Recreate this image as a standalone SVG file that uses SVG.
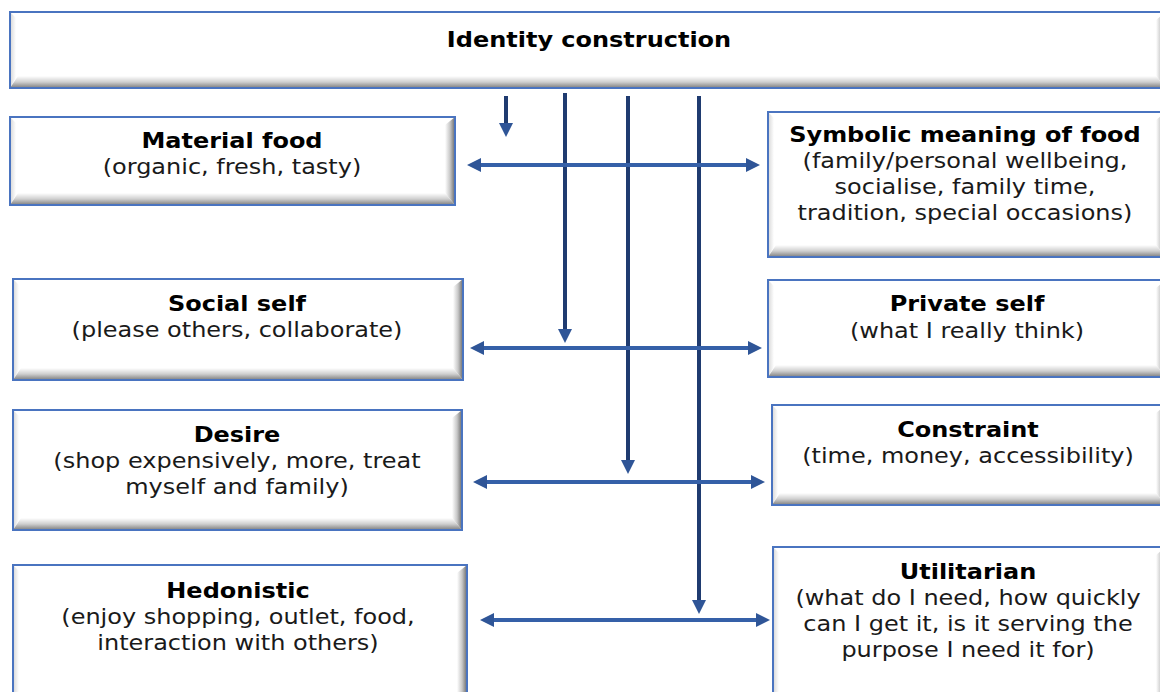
<svg xmlns="http://www.w3.org/2000/svg" width="1160" height="692" viewBox="0 0 1160 692">
<style>
.face{fill:#ffffff}
.bdr{fill:none;stroke:#4a74c0;stroke-width:2}
.bb{fill:url(#gb)}
.br{fill:url(#gr)}
.bl{fill:url(#gl)}
.t{font-family:"DejaVu Sans",Verdana,sans-serif;font-size:20.5px;fill:#1a1a1a;text-anchor:middle}
.h{font-weight:bold;fill:#000}
.v{stroke:#1f3b70;stroke-width:4;fill:none}
.hz{stroke:#3560a8;stroke-width:4;fill:none}
</style>
<defs>
<linearGradient id="gb" x1="0" y1="0" x2="0" y2="1">
<stop offset="0" stop-color="#ffffff"/><stop offset="0.5" stop-color="#cfcfcf"/><stop offset="1" stop-color="#7d7d7d"/>
</linearGradient>
<linearGradient id="gr" x1="0" y1="0" x2="1" y2="0">
<stop offset="0" stop-color="#ffffff"/><stop offset="0.5" stop-color="#c8c8c8"/><stop offset="1" stop-color="#6a6a6a"/>
</linearGradient>
<linearGradient id="gl" x1="1" y1="0" x2="0" y2="0">
<stop offset="0" stop-color="#ffffff"/><stop offset="1" stop-color="#d6d6d6"/>
</linearGradient>
<marker id="ah" markerWidth="16" markerHeight="16" refX="4" refY="7" orient="auto-start-reverse" markerUnits="userSpaceOnUse">
<path d="M0,0 L14,7 L0,14 Z" fill="#2f5597"/>
</marker>
</defs>

<g id="identity">
<rect class="face" x="10" y="12" width="1156" height="76"/>
<polygon class="bl" points="10,12 16,18 16,78 10,88"/>
<polygon class="bb" points="10,88 1166,88 1156,76 18,76"/>
<polygon class="br" points="1166,12 1166,88 1156,76 1156,20"/>
<rect class="bdr" x="10" y="12" width="1156" height="76"/>
<text class="t h" transform="translate(589,47) scale(1.17,1)" x="0" y="0">Identity construction</text>
</g>

<g id="material">
<rect class="face" x="10" y="117" width="445" height="88"/>
<polygon class="bl" points="10,117 16,123 16,195 10,205"/>
<polygon class="bb" points="10,205 455,205 445,193 18,193"/>
<polygon class="br" points="455,117 455,205 445,193 445,125"/>
<rect class="bdr" x="10" y="117" width="445" height="88"/>
<text class="t" transform="translate(232,0) scale(1.17,1)"><tspan class="h" x="0" y="148">Material food</tspan><tspan x="0" y="174">(organic, fresh, tasty)</tspan></text>
</g>

<g id="symbolic">
<rect class="face" x="768" y="112" width="398" height="145"/>
<polygon class="bl" points="768,112 774,118 774,247 768,257"/>
<polygon class="bb" points="768,257 1166,257 1156,245 776,245"/>
<polygon class="br" points="1166,112 1166,257 1156,245 1156,120"/>
<rect class="bdr" x="768" y="112" width="398" height="145"/>
<text class="t" transform="translate(965,0) scale(1.17,1)"><tspan class="h" x="0" y="142">Symbolic meaning of food</tspan><tspan x="0" y="168">(family/personal wellbeing,</tspan><tspan x="0" y="194">socialise, family time,</tspan><tspan x="0" y="220">tradition, special occasions)</tspan></text>
</g>

<g id="social">
<rect class="face" x="13" y="279" width="450" height="101"/>
<polygon class="bl" points="13,279 19,285 19,370 13,380"/>
<polygon class="bb" points="13,380 463,380 453,368 21,368"/>
<polygon class="br" points="463,279 463,380 453,368 453,287"/>
<rect class="bdr" x="13" y="279" width="450" height="101"/>
<text class="t" transform="translate(237,0) scale(1.17,1)"><tspan class="h" x="0" y="311">Social self</tspan><tspan x="0" y="337">(please others, collaborate)</tspan></text>
</g>

<g id="private">
<rect class="face" x="768" y="280" width="398" height="97"/>
<polygon class="bl" points="768,280 774,286 774,367 768,377"/>
<polygon class="bb" points="768,377 1166,377 1156,365 776,365"/>
<polygon class="br" points="1166,280 1166,377 1156,365 1156,288"/>
<rect class="bdr" x="768" y="280" width="398" height="97"/>
<text class="t" transform="translate(967,0) scale(1.17,1)"><tspan class="h" x="0" y="311">Private self</tspan><tspan x="0" y="338">(what I really think)</tspan></text>
</g>

<g id="desire">
<rect class="face" x="13" y="410" width="449" height="120"/>
<polygon class="bl" points="13,410 19,416 19,520 13,530"/>
<polygon class="bb" points="13,530 462,530 452,518 21,518"/>
<polygon class="br" points="462,410 462,530 452,518 452,418"/>
<rect class="bdr" x="13" y="410" width="449" height="120"/>
<text class="t" transform="translate(237,0) scale(1.17,1)"><tspan class="h" x="0" y="442">Desire</tspan><tspan x="0" y="468">(shop expensively, more, treat</tspan><tspan x="0" y="494">myself and family)</tspan></text>
</g>

<g id="constraint">
<rect class="face" x="772" y="405" width="394" height="100"/>
<polygon class="bl" points="772,405 778,411 778,495 772,505"/>
<polygon class="bb" points="772,505 1166,505 1156,493 780,493"/>
<polygon class="br" points="1166,405 1166,505 1156,493 1156,413"/>
<rect class="bdr" x="772" y="405" width="394" height="100"/>
<text class="t" transform="translate(968,0) scale(1.17,1)"><tspan class="h" x="0" y="437">Constraint</tspan><tspan x="0" y="463">(time, money, accessibility)</tspan></text>
</g>

<g id="hedonistic">
<rect class="face" x="13" y="565" width="454" height="140"/>
<polygon class="bl" points="13,565 19,571 19,705 13,705"/>
<polygon class="br" points="467,565 467,705 457,705 457,573"/>
<rect class="bdr" x="13" y="565" width="454" height="140"/>
<text class="t" transform="translate(238,0) scale(1.17,1)"><tspan class="h" x="0" y="598">Hedonistic</tspan><tspan x="0" y="624">(enjoy shopping, outlet, food,</tspan><tspan x="0" y="650">interaction with others)</tspan></text>
</g>

<g id="utilitarian">
<rect class="face" x="773" y="547" width="393" height="160"/>
<polygon class="bl" points="773,547 779,553 779,707 773,707"/>
<polygon class="br" points="1166,547 1166,707 1156,707 1156,555"/>
<rect class="bdr" x="773" y="547" width="393" height="160"/>
<text class="t" transform="translate(968,0) scale(1.17,1)"><tspan class="h" x="0" y="579">Utilitarian</tspan><tspan x="0" y="605">(what do I need, how quickly</tspan><tspan x="0" y="631">can I get it, is it serving the</tspan><tspan x="0" y="657">purpose I need it for)</tspan></text>
</g>

<g id="connectors">
<line class="v" x1="506" y1="96" x2="506" y2="127" marker-end="url(#ah)"/>
<line class="v" x1="565" y1="93" x2="565" y2="333" marker-end="url(#ah)"/>
<line class="v" x1="628" y1="96" x2="628" y2="464" marker-end="url(#ah)"/>
<line class="v" x1="699" y1="96" x2="699" y2="604" marker-end="url(#ah)"/>
<line class="hz" x1="477" y1="165" x2="750" y2="165" marker-start="url(#ah)" marker-end="url(#ah)"/>
<line class="hz" x1="480" y1="348" x2="752" y2="348" marker-start="url(#ah)" marker-end="url(#ah)"/>
<line class="hz" x1="483" y1="482" x2="755" y2="482" marker-start="url(#ah)" marker-end="url(#ah)"/>
<line class="hz" x1="490" y1="620" x2="760" y2="620" marker-start="url(#ah)" marker-end="url(#ah)"/>
</g>
</svg>
